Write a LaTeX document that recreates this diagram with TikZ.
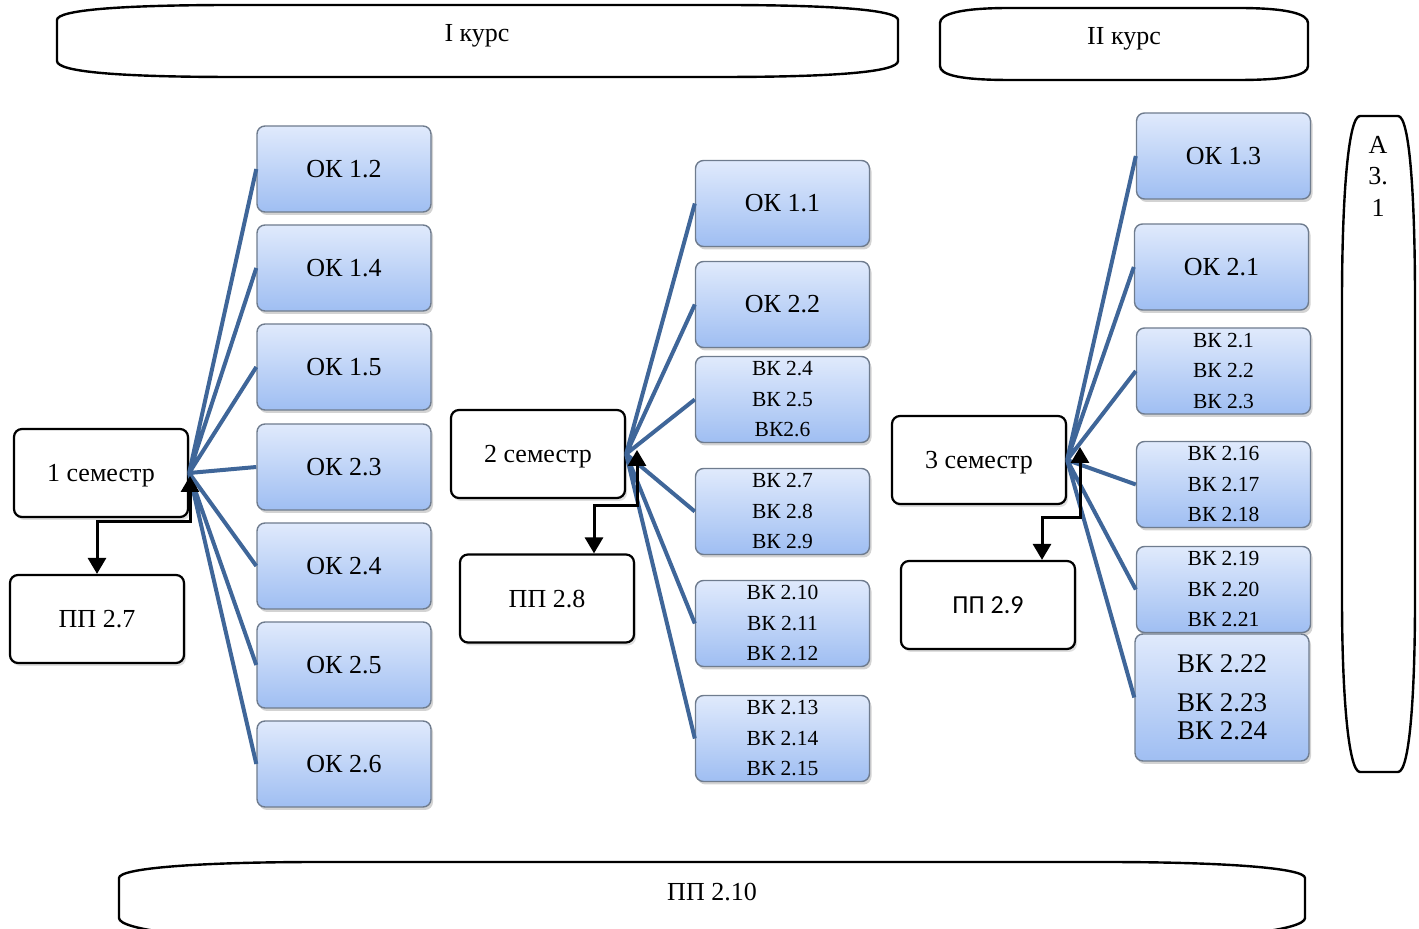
\documentclass[tikz,border=0pt]{standalone}
\usepackage{fontspec}
\setmainfont{Liberation Serif}
\newfontfamily\plainsans{Carlito}
\usepackage{tikz}
\usetikzlibrary{shapes,% rounded boxes
shadows,%               soft shadows under the boxes
arrows.meta}%           filled triangle tips
\definecolor{linkblue}{HTML}{3F6699}
\definecolor{boxtop}{HTML}{E0EAFC}
\definecolor{boxbottom}{HTML}{9FBEF2}
\definecolor{boxedge}{HTML}{6F7C8E}
\tikzset{every node/.style={font=\rmfamily\fontsize{13}{15}\selectfont,inner sep=0pt},
  disc/.style={rounded corners=4pt,draw=boxedge,line width=0.7pt,
    top color=boxtop,bottom color=boxbottom,
    drop shadow={opacity=0.35,shadow xshift=1pt,shadow yshift=-1.5pt},
    minimum width=87pt,minimum height=43pt},
  discsmall/.style={disc,align=center,font=\rmfamily\fontsize{10.75}{15.25}\selectfont},
  sem/.style={rounded corners=4pt,draw=black,line width=1.1pt,fill=white,
    drop shadow={opacity=0.25,shadow xshift=1pt,shadow yshift=-1.5pt},
    text depth=0pt,minimum width=87pt,minimum height=44pt},
  banner/.style={draw=black,line width=1.2pt},
  link/.style={draw=linkblue,line width=2pt},
  dbl/.style={draw=black,line width=1.5pt,
    {Triangle[width=9pt,length=8pt]}-{Triangle[width=9pt,length=8pt]}}}

\begin{document}
\begin{tikzpicture}[x=0.5pt,y=-0.5pt]
\useasboundingbox (0,0) rectangle (1419,929);
% course banners
\draw[banner] (57,20) -- (57,61) .. controls (57,72) and (120,77) .. (235,77)
  -- (720,77) .. controls (835,77) and (898,72) .. (898,61)
  -- (898,20) .. controls (898,10) and (835,5) .. (720,5)
  -- (235,5) .. controls (120,5) and (57,10) .. cycle;
\node (kurs1) at (477,36) {I курс};
\draw[banner] (940,23) -- (940,66) .. controls (940,75) and (960,80) .. (1010,80)
  -- (1238,80) .. controls (1288,80) and (1308,75) .. (1308,66)
  -- (1308,23) .. controls (1308,14) and (1288,8) .. (1238,8)
  -- (1010,8) .. controls (960,8) and (940,14) .. cycle;
\node (kurs2) at (1124,39) {II курс};
\draw[banner] (1360,116) -- (1398,116) .. controls (1410,116) and (1415,200) .. (1415,300)
  -- (1415,600) .. controls (1415,690) and (1410,772) .. (1398,772)
  -- (1360,772) .. controls (1348,772) and (1342,690) .. (1342,600)
  -- (1342,300) .. controls (1342,200) and (1348,116) .. cycle;
\node[align=center,font=\rmfamily\fontsize{13}{15.75}\selectfont] (att) at (1378,176) {А\\3.\\1};
\draw[banner] (119,878) -- (119,918) .. controls (119,930) and (200,940) .. (320,940)
  -- (1104,940) .. controls (1224,940) and (1305,930) .. (1305,918)
  -- (1305,878) .. controls (1305,868) and (1224,862) .. (1104,862)
  -- (320,862) .. controls (200,862) and (119,868) .. cycle;
\node (pp210) at (712,892) {ПП 2.10};
% 1 semester
\node[sem] (sem1) at (101,473) {1 семестр};
\node[sem] (pp27) at (97,619) {ПП 2.7};
\node[disc] (ok12) at (344,169) {ОК 1.2};
\node[disc] (ok14) at (344,268) {ОК 1.4};
\node[disc] (ok15) at (344,367) {ОК 1.5};
\node[disc] (ok23) at (344,467) {ОК 2.3};
\node[disc] (ok24) at (344,566) {ОК 2.4};
\node[disc] (ok25) at (344,665) {ОК 2.5};
\node[disc] (ok26) at (344,764) {ОК 2.6};
% 2 semester
\node[sem] (sem2) at (538,454) {2 семестр};
\node[sem] (pp28) at (547,598.5) {ПП 2.8};
\node[disc] (ok11) at (782.5,203.5) {ОК 1.1};
\node[disc] (ok22) at (782.5,304.5) {ОК 2.2};
\node[discsmall] (vk24) at (782.5,399.5) {ВК 2.4\\ВК 2.5\\ВК2.6};
\node[discsmall] (vk27) at (782.5,511.5) {ВК 2.7\\ВК 2.8\\ВК 2.9};
\node[discsmall] (vk210) at (782.5,623.5) {ВК 2.10\\ВК 2.11\\ВК 2.12};
\node[discsmall] (vk213) at (782.5,738.5) {ВК 2.13\\ВК 2.14\\ВК 2.15};
% 3 semester
\node[sem] (sem3) at (979,460) {3 семестр};
\node[sem,font=\plainsans\fontsize{13}{15}\selectfont] (pp29) at (988,605) {ПП 2.9};
\node[disc] (ok13) at (1223.5,156) {ОК 1.3};
\node[disc] (ok21) at (1221.5,267) {ОК 2.1};
\node[discsmall] (vk21) at (1223.5,371) {ВК 2.1\\ВК 2.2\\ВК 2.3};
\node[discsmall] (vk216) at (1223.5,484.5) {ВК 2.16\\ВК 2.17\\ВК 2.18};
\node[discsmall] (vk219) at (1223.5,589.5) {ВК 2.19\\ВК 2.20\\ВК 2.21};
\node[disc,minimum height=63.5pt,align=center,font=\rmfamily\fontsize{13.5}{14}\selectfont]
  (vk222) at (1222,697.5) {ВК 2.22\\[5.5pt]ВК 2.23\\ВК 2.24};
\begin{scope}[link]
\draw (sem1.east) -- (ok12.west) (sem1.east) -- (ok14.west)
      (sem1.east) -- (ok15.west) (sem1.east) -- (ok23.west)
      (sem1.east) -- (ok24.west) (sem1.east) -- (ok25.west)
      (sem1.east) -- (ok26.west);
\draw (sem2.east) -- (ok11.west) (sem2.east) -- (ok22.west)
      (sem2.east) -- (vk24.west) (sem2.east) -- (vk27.west)
      (sem2.east) -- (vk210.west) (sem2.east) -- (vk213.west);
\draw (sem3.east) -- (ok13.west) (sem3.east) -- (ok21.west)
      (sem3.east) -- (vk21.west) (sem3.east) -- (vk216.west)
      (sem3.east) -- (vk219.west) (sem3.east) -- (vk222.west);
\end{scope}
\coordinate (tip1) at (190,476);
\coordinate (bend1) at (190,522);
\coordinate (tip2) at (637,450);
\coordinate (bend2) at (637,506);
\coordinate (tip3) at (1080,447);
\coordinate (bend3) at (1080,518);
\begin{scope}[dbl]
\draw (pp27.north) |- (bend1) -- (tip1);
\draw ([xshift=23.5pt]pp28.north) |- (bend2) -- (tip2);
\draw ([xshift=27pt]pp29.north) |- (bend3) -- (tip3);
\end{scope}
\end{tikzpicture}
\end{document}
